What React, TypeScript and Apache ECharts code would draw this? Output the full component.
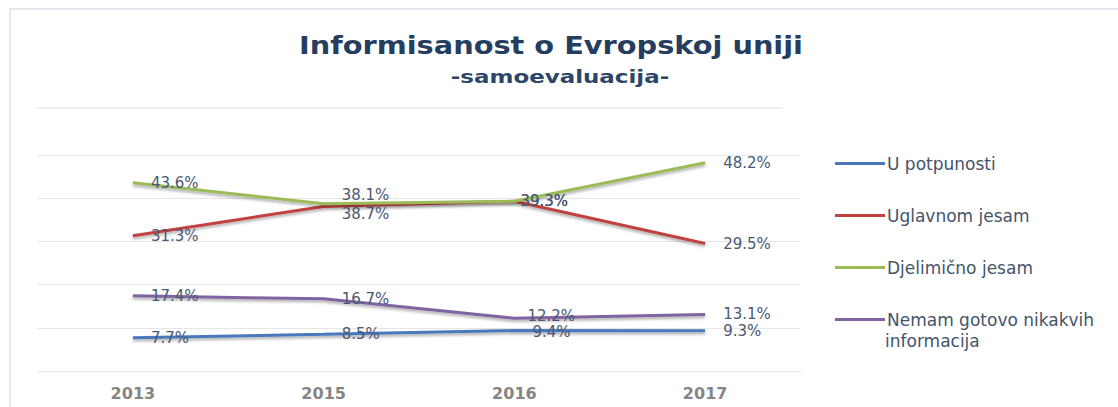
import React, { useEffect, useRef } from "react";
import * as echarts from "echarts";

const years = ["2013", "2015", "2016", "2017"];
const seriesNames = [
  "U potpunosti",
  "Uglavnom jesam",
  "Djelimično jesam",
  "Nemam gotovo nikakvih informacija",
];
const uPotpunosti = [7.7, 8.5, 9.4, 9.3];
const uglavnomJesam = [31.3, 38.1, 39.3, 29.5];
const djelimicnoJesam = [43.6, 38.7, 39.3, 48.2];
const nemamInformacija = [17.4, 16.7, 12.2, 13.1];
const colors = ["#4A78BC", "#C0433F", "#9BBB59", "#8064A2"];

const FONT = "DejaVu Sans";

export default function App() {
  const ref = useRef<HTMLDivElement>(null);
  useEffect(() => {
    if (!ref.current) return;
    const chart = echarts.init(ref.current, null, { renderer: "svg" });
    const datasets = [uPotpunosti, uglavnomJesam, djelimicnoJesam, nemamInformacija];
    // label nudges for crowded points, as placed in the reference
    const labelDy: number[][] = [
      [0, 0, 2, 0],
      [0, -11, 0, 0],
      [0, 10, 0, 0],
      [0, 0, -2, 0],
    ];
    const labelDx: number[][] = [
      [0, 0, 0, 0],
      [0, 0, -12, 0],
      [0, 0, -12, 0],
      [0, 0, -5, 0],
    ];
    chart.setOption({
      animation: false,
      backgroundColor: "#ffffff",
      legend: {
        orient: "vertical",
        left: 835,
        top: 155,
        padding: 0,
        icon: "rect",
        itemWidth: 50,
        itemHeight: 3,
        itemGap: 35,
        itemStyle: { opacity: 1 },
        formatter: (name: string) =>
          name === seriesNames[3] ? "Nemam gotovo nikakvih" : name,
        textStyle: {
          fontFamily: FONT,
          fontSize: 17,
          color: "#44546A",
          lineHeight: 17,
          padding: [0, 0, 0, -3],
        },
        data: seriesNames,
      },
      graphic: [
        {
          type: "rect",
          shape: { x: 10, y: 9, width: 1130, height: 420 },
          style: { fill: "none", stroke: "#DCE0E6", lineWidth: 1.5 },
          silent: true,
        },
        {
          type: "line",
          shape: { x1: 37, y1: 108, x2: 783, y2: 108 },
          style: { stroke: "#EFEFEF", lineWidth: 2 },
          silent: true,
        },
        {
          type: "text",
          x: 551,
          y: 45,
          scaleX: 1.2,
          style: {
            text: "Informisanost o Evropskoj uniji",
            font: `bold 24px "${FONT}"`,
            fill: "#253E60",
            textAlign: "center",
            textVerticalAlign: "middle",
          },
          silent: true,
        },
        {
          type: "text",
          x: 560,
          y: 77,
          scaleX: 1.35,
          style: {
            text: "-samoevaluacija-",
            font: `bold 17px "${FONT}"`,
            fill: "#2D4566",
            textAlign: "center",
            textVerticalAlign: "middle",
          },
          silent: true,
        },
        {
          type: "text",
          x: 885,
          y: 341,
          style: {
            text: "informacija",
            font: `17px "${FONT}"`,
            fill: "#44546A",
            textVerticalAlign: "middle",
          },
          silent: true,
        },
      ],
      grid: { left: 37.5, right: 317.5, top: 155, bottom: 36 },
      xAxis: {
        type: "category",
        data: years,
        boundaryGap: true,
        axisLine: { show: true, lineStyle: { color: "#E3E3E3", width: 1 } },
        axisTick: { show: false },
        axisLabel: {
          margin: 14,
          fontFamily: FONT,
          fontSize: 16,
          fontWeight: "bold",
          color: "#858585",
        },
      },
      yAxis: {
        type: "value",
        min: 0,
        max: 50,
        interval: 10,
        axisLabel: { show: false },
        axisLine: { show: false },
        axisTick: { show: false },
        splitLine: { lineStyle: { color: "#E6E6E6", width: 1 } },
      },
      series: seriesNames.map((name, i) => ({
        name,
        type: "line",
        data: datasets[i],
        symbol: "circle",
        symbolSize: 0,
        showSymbol: true,
        color: colors[i],
        itemStyle: { color: colors[i] },
        lineStyle: {
          width: 3,
          color: colors[i],
          shadowColor: "rgba(0,0,0,0.35)",
          shadowBlur: 3,
          shadowOffsetY: 2,
        },
        label: {
          show: true,
          position: "right",
          distance: 18,
          formatter: (p: any) => `${Number(p.value).toFixed(1)}%`,
          fontFamily: FONT,
          fontSize: 15,
          color: "#4A5873",
        },
        labelLayout: (p: any) => ({
          hideOverlap: false,
          dx: labelDx[i][p.dataIndex] || 0,
          dy: labelDy[i][p.dataIndex] || 0,
        }),
        z: 2 + i,
      })),
    });
    return () => chart.dispose();
  }, []);
  return (
    <div
      ref={ref}
      style={{ position: "fixed", left: 0, top: 0, width: 1118, height: 407 }}
    />
  );
}
